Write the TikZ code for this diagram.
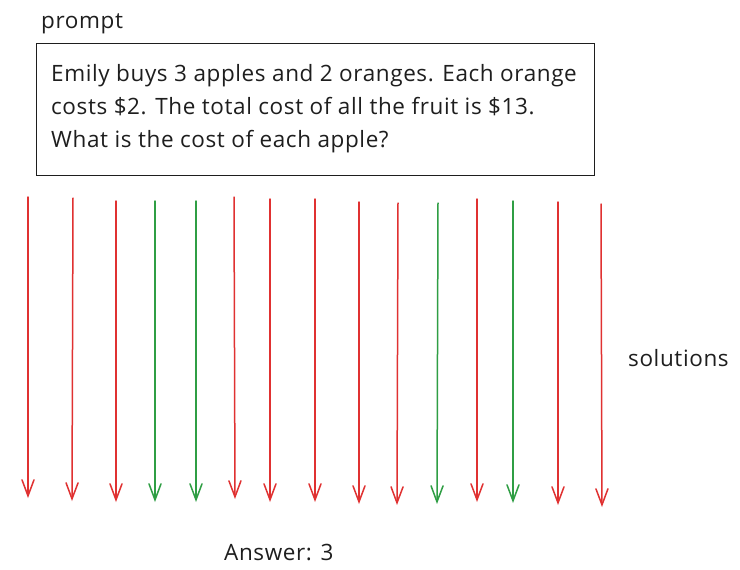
\documentclass[tikz,border=0pt]{standalone}
\usepackage{fontspec}
\setmainfont{Open Sans}[LetterSpace=2.7]
\usetikzlibrary{arrows.meta}
\definecolor{xred}{HTML}{E03131}
\definecolor{xgreen}{HTML}{2F9E44}
\definecolor{ink}{HTML}{1E1E1E}
\begin{document}
\begin{tikzpicture}[x=1pt,y=-1pt,
  sol/.style={line width=1.5pt, line cap=round, -{Straight Barb[length=16pt,width=12pt,line cap=round]}},
  txt/.style={inner sep=0pt, anchor=base west, font=\fontsize{22.5}{26}\selectfont, text=ink}]
\useasboundingbox[fill=white] (0,0) rectangle (740,570);
\node[txt] (prompt) at (41,28) {prompt};
\node[draw=ink, line width=1.2pt, anchor=north west, minimum width=558pt, minimum height=132pt, inner sep=0pt] (box) at (36,43) {};
\node[txt] (q1) at (51,81) {Emily buys 3 apples and 2 oranges. Each orange};
\node[txt] (q2) at (51,114) {costs \$2. The total cost of all the fruit is \$13.};
\node[txt] (q3) at (51,147) {What is the cost of each apple?};
\node[txt] (solutions) at (628,366) {solutions};
\node[txt] (answer) at (224,560) {Answer: 3};
\foreach \i/\xa/\ya/\xb/\yb/\c in {
  1/28/197/28/498/xred, 2/73/198/72/501/xred, 3/116/201/116/502/xred,
  4/155/201/155/502/xgreen, 5/196/201/196/502/xgreen, 6/234/197/235/499/xred,
  7/270/199/270/502/xred, 8/315/199/315/502/xred, 9/359/202/359/504/xred,
  10/398/203/397/505/xred, 11/438/203/437/504/xgreen, 12/477/199/477/502/xred,
  13/513/201/513/503/xgreen, 14/558/202/558/505/xred, 15/601/204/602/507/xred}{
  \coordinate (s\i-t) at (\xa,\ya);
  \coordinate (s\i-b) at (\xb,\yb);
  \draw[sol, draw=\c] (s\i-t) -- (s\i-b);
}
\end{tikzpicture}
\end{document}
